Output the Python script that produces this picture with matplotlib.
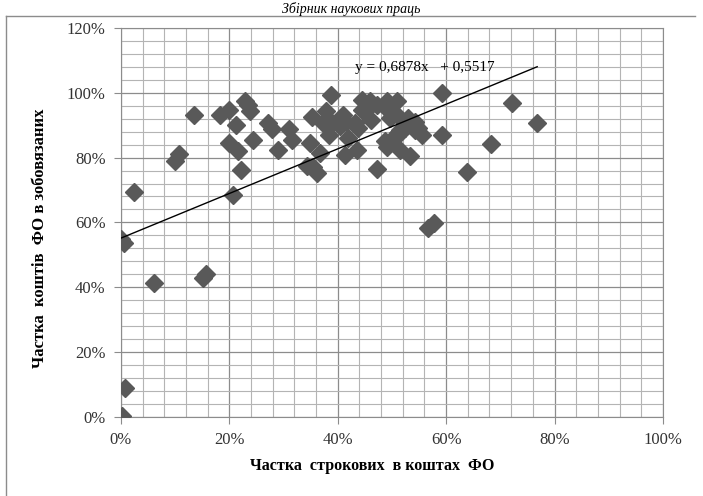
import matplotlib
matplotlib.use("Agg")
import matplotlib.pyplot as plt
import numpy as np
from matplotlib.ticker import MultipleLocator, PercentFormatter

plt.rcParams['font.family'] = ['Liberation Serif', 'DejaVu Serif']

# share of term deposits in FO funds (x) vs share of FO funds in liabilities (y)
x_share = [0.000, 0.002, 0.008, 0.000, 0.006, 0.024, 0.061, 0.152, 0.157,
           0.100, 0.107, 0.135, 0.183, 0.200, 0.212, 0.200, 0.216, 0.221,
           0.207, 0.229, 0.234, 0.239, 0.243, 0.272, 0.278, 0.289, 0.310,
           0.315, 0.343, 0.349, 0.352, 0.355, 0.361, 0.367, 0.373, 0.378,
           0.384, 0.387, 0.389, 0.404, 0.410, 0.413, 0.416, 0.419, 0.432,
           0.435, 0.438, 0.444, 0.444, 0.453, 0.459, 0.459, 0.462, 0.472,
           0.472, 0.487, 0.490, 0.490, 0.493, 0.496, 0.500, 0.502, 0.509,
           0.509, 0.512, 0.512, 0.515, 0.515, 0.524, 0.530, 0.533, 0.533,
           0.542, 0.542, 0.549, 0.555, 0.567, 0.577, 0.592, 0.592, 0.639,
           0.682, 0.721, 0.768]
y_share = [0.000, 0.003, 0.090, 0.548, 0.538, 0.694, 0.412, 0.430, 0.440,
           0.790, 0.812, 0.930, 0.932, 0.947, 0.900, 0.845, 0.821, 0.762,
           0.685, 0.973, 0.962, 0.942, 0.855, 0.908, 0.888, 0.822, 0.888,
           0.855, 0.773, 0.845, 0.924, 0.770, 0.752, 0.814, 0.906, 0.942,
           0.870, 0.994, 0.906, 0.896, 0.932, 0.809, 0.911, 0.860, 0.906,
           0.824, 0.891, 0.978, 0.948, 0.948, 0.973, 0.958, 0.917, 0.963,
           0.764, 0.850, 0.834, 0.973, 0.948, 0.922, 0.942, 0.860, 0.973,
           0.865, 0.927, 0.875, 0.886, 0.824, 0.891, 0.922, 0.906, 0.806,
           0.886, 0.911, 0.891, 0.870, 0.582, 0.598, 1.000, 0.868, 0.754,
           0.843, 0.968, 0.908]

slope = 0.6878
intercept = 0.5517

fig = plt.figure(figsize=(7.03, 4.96), dpi=100)
ax = fig.add_axes([0.172, 0.159, 0.771, 0.785])

ax.xaxis.set_major_locator(MultipleLocator(0.2))
ax.xaxis.set_minor_locator(MultipleLocator(0.04))
ax.yaxis.set_major_locator(MultipleLocator(0.2))
ax.yaxis.set_minor_locator(MultipleLocator(0.04))
ax.grid(which='major', color='#8c8c8c', lw=0.9)
ax.grid(which='minor', color='#b4b4b4', lw=0.8)
ax.set_axisbelow(True)

ax.plot(x_share, y_share, 'D', color='#595959', ms=9, mec='#595959', zorder=3)

xs = np.array([min(x_share), max(x_share)])
ax.plot(xs, slope * xs + intercept, color='black', lw=1.0, zorder=4)
ax.text(0.432, 1.077, 'y = 0,6878x   + 0,5517', fontsize=11, va='center', ha='left')

ax.set_xlim(0, 1.0)
ax.set_ylim(0, 1.2)
ax.xaxis.set_major_formatter(PercentFormatter(1.0, decimals=0))
ax.yaxis.set_major_formatter(PercentFormatter(1.0, decimals=0))
ax.tick_params(which='major', length=5, color='#8c8c8c', labelsize=12,
               labelcolor='#333333', pad=6)
ax.tick_params(which='minor', length=0)
for s in ax.spines.values():
    s.set_color('#8c8c8c')

fig.text(0.53, 0.06, 'Частка  строкових  в коштах  ФО', ha='center', va='center',
         fontsize=11.5, fontweight='bold')
fig.text(0.057, 0.52, 'Частка  коштів  ФО в зобовязаних', ha='center', va='center',
         rotation=90, fontsize=12, fontweight='bold')

fig.text(0.5, 0.995, 'Збірник наукових праць', ha='center', va='top',
         fontsize=10, style='italic')

fig.add_artist(plt.Line2D([0.008, 0.008], [0.0, 0.968], color='#8c8c8c', lw=1))
fig.add_artist(plt.Line2D([0.008, 0.988], [0.968, 0.968], color='#8c8c8c', lw=1))

fig.savefig('out.png', dpi=100)
